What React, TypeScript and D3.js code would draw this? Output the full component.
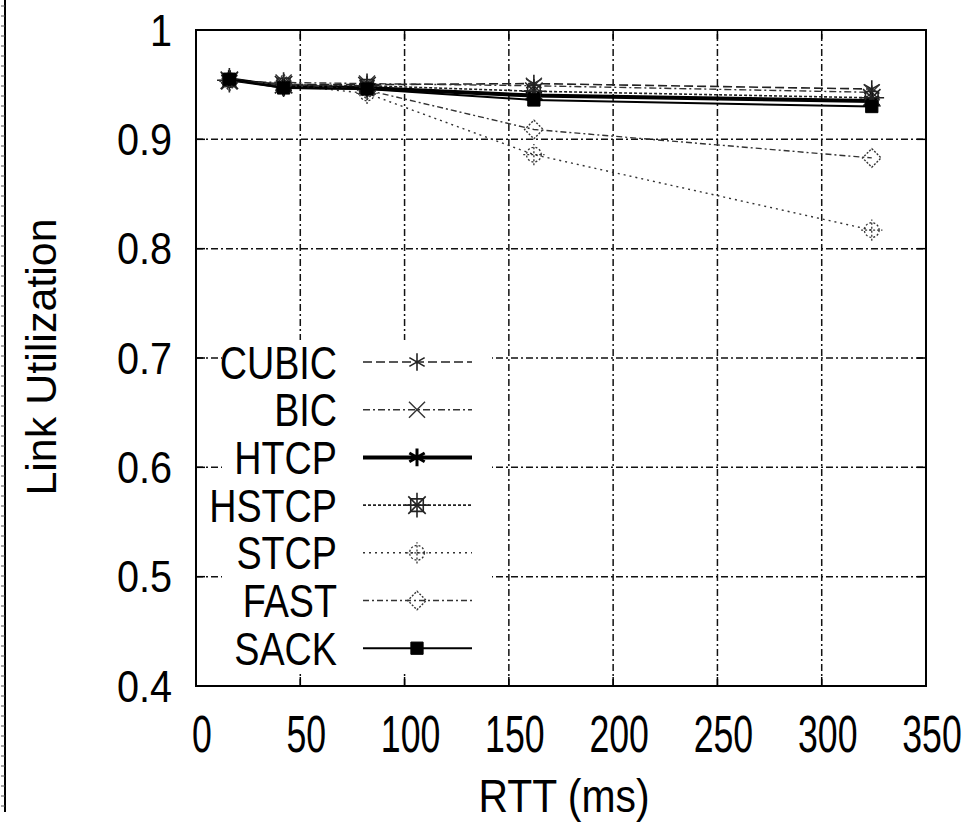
import React from "react";
import * as d3 from "d3";

const rtt = [16, 42, 82, 162, 324];
const seriesNames = ["CUBIC", "BIC", "HTCP", "HSTCP", "STCP", "FAST", "SACK"];
const cubic = [0.955, 0.95, 0.95, 0.951, 0.946];
const bic = [0.953, 0.952, 0.951, 0.949, 0.943];
const htcp = [0.955, 0.948, 0.947, 0.94, 0.935];
const hstcp = [0.954, 0.95, 0.949, 0.944, 0.938];
const stcp = [0.954, 0.95, 0.942, 0.886, 0.817];
const fast = [0.953, 0.951, 0.945, 0.909, 0.883];
const sack = [0.955, 0.947, 0.946, 0.936, 0.93];
const xTicks = [0, 50, 100, 150, 200, 250, 300, 350];
const yTicks = [0.4, 0.5, 0.6, 0.7, 0.8, 0.9, 1];
const yTickLabels = ["0.4", "0.5", "0.6", "0.7", "0.8", "0.9", "1"];

const W = 969;
const H = 833;
const FONT = "'Liberation Sans', Arial, sans-serif";

type Style = {
  dash: string;
  width: number;
  color: string;
  marker: string;
  mw: number;
};

const styles: Record<string, Style> = {
  CUBIC: { dash: "9,4", width: 1.6, color: "#222", marker: "asterisk", mw: 1.6 },
  BIC: { dash: "7,3,2,3", width: 1.4, color: "#333", marker: "times", mw: 1.4 },
  HTCP: { dash: "", width: 4, color: "#000", marker: "asterisk", mw: 3 },
  HSTCP: { dash: "3,2", width: 1.6, color: "#222", marker: "squarex", mw: 1.6 },
  STCP: { dash: "2,4", width: 1.4, color: "#333", marker: "circleplus", mw: 1.3 },
  FAST: { dash: "6,3,2,3", width: 1.4, color: "#333", marker: "diamond", mw: 1.4 },
  SACK: { dash: "", width: 2, color: "#000", marker: "filledsquare", mw: 1 },
};

const dataMap: Record<string, number[]> = {
  CUBIC: cubic,
  BIC: bic,
  HTCP: htcp,
  HSTCP: hstcp,
  STCP: stcp,
  FAST: fast,
  SACK: sack,
};

function Marker({ kind, x, y, color, sw }: { kind: string; x: number; y: number; color: string; sw: number }) {
  const t = `translate(${x},${y})`;
  if (kind === "asterisk") {
    const p = d3.symbol().type(d3.symbolAsterisk).size(220)() as string;
    return <path d={p} transform={t} fill="none" stroke={color} strokeWidth={sw} />;
  }
  if (kind === "times") {
    const p = d3.symbol().type(d3.symbolTimes).size(170)() as string;
    return <path d={p} transform={t} fill="none" stroke={color} strokeWidth={sw} />;
  }
  if (kind === "squarex") {
    const sq = d3.symbol().type(d3.symbolSquare2).size(200)() as string;
    const tx = d3.symbol().type(d3.symbolTimes).size(200)() as string;
    const pl = d3.symbol().type(d3.symbolPlus).size(200)() as string;
    return (
      <g transform={t} fill="none" stroke={color} strokeWidth={sw}>
        <path d={sq} />
        <path d={tx} />
        <path d={pl} />
      </g>
    );
  }
  if (kind === "circleplus") {
    const c = d3.symbol().type(d3.symbolCircle).size(170)() as string;
    const pl = d3.symbol().type(d3.symbolPlus).size(150)() as string;
    return (
      <g transform={t} fill="none" stroke={color} strokeWidth={sw} strokeDasharray="2,2">
        <path d={c} />
        <path d={pl} />
      </g>
    );
  }
  if (kind === "diamond") {
    const p = d3.symbol().type(d3.symbolDiamond2).size(220)() as string;
    return <path d={p} transform={t} fill="none" stroke={color} strokeWidth={sw} strokeDasharray="2,1.5" />;
  }
  const p = d3.symbol().type(d3.symbolSquare).size(150)() as string;
  return <path d={p} transform={t} fill={color} stroke={color} strokeWidth={sw} />;
}

export default function App() {
  const x = d3.scaleLinear().domain([0, 350]).range([196, 926]);
  const y = d3.scaleLinear().domain([0.4, 1]).range([686, 30]);
  const line = d3
    .line<number>()
    .x((_, i) => x(rtt[i]))
    .y((d) => y(d));

  const gridDash = "7,3,2,3";
  const legendX = 337;
  const legendY0 = 362;
  const legendStep = 47.7;

  // scan ruler decoration on the far left
  const rulerTicks: number[] = [];
  for (let v = 6; v < 812; v += 10) rulerTicks.push(v);

  return (
    <svg
      width={W}
      height={H}
      style={{ position: "absolute", left: 0, top: 0, background: "#fff" }}
      fontFamily={FONT}
    >
      <rect x={0} y={0} width={W} height={H} fill="#fff" />
      {/* left ruler */}
      <line x1={5} x2={5} y1={0} y2={812} stroke="#000" strokeWidth={2} />
      {rulerTicks.map((v) => (
        <line key={v} x1={1} x2={5} y1={v} y2={v} stroke="#555" strokeWidth={1} />
      ))}

      {/* grid */}
      {yTicks.slice(1, -1).map((v) => (
        <line key={"gy" + v} x1={x(0)} x2={x(350)} y1={y(v)} y2={y(v)} stroke="#111" strokeWidth={1.5} strokeDasharray={gridDash} />
      ))}
      {xTicks.slice(1, -1).map((v) => (
        <line key={"gx" + v} x1={x(v)} x2={x(v)} y1={y(0.4)} y2={y(1)} stroke="#111" strokeWidth={1.5} strokeDasharray={gridDash} />
      ))}

      {/* legend background box */}
      <rect x={222} y={340} width={270} height={332} fill="#fff" />

      {/* frame */}
      <rect x={x(0)} y={y(1)} width={x(350) - x(0)} height={y(0.4) - y(1)} fill="none" stroke="#000" strokeWidth={2} />
      {/* ticks */}
      {xTicks.map((v) => (
        <g key={"tx" + v}>
          <line x1={x(v)} x2={x(v)} y1={y(0.4)} y2={y(0.4) - 9} stroke="#000" strokeWidth={1.5} />
          <line x1={x(v)} x2={x(v)} y1={y(1)} y2={y(1) + 9} stroke="#000" strokeWidth={1.5} />
        </g>
      ))}
      {yTicks.map((v) => (
        <g key={"ty" + v}>
          <line x1={x(0)} x2={x(0) + 9} y1={y(v)} y2={y(v)} stroke="#000" strokeWidth={1.5} />
          <line x1={x(350)} x2={x(350) - 9} y1={y(v)} y2={y(v)} stroke="#000" strokeWidth={1.5} />
        </g>
      ))}

      {/* tick labels */}
      {xTicks.map((v) => (
        <g key={"lx" + v} transform={`translate(${x(v) + 6},752) scale(0.7,1)`}>
          <text x={0} y={0} textAnchor="middle" fontSize={51} fill="#000">
            {String(v)}
          </text>
        </g>
      ))}
      {yTicks.map((v, i) => (
        <g key={"ly" + v} transform={`translate(172,${y(v) + 15.5}) scale(0.9,1)`}>
          <text x={0} y={0} textAnchor="end" fontSize={44} fill="#000">
            {yTickLabels[i]}
          </text>
        </g>
      ))}

      {/* axis titles */}
      <g transform={`translate(56,357) rotate(-90)`}>
        <text x={0} y={0} textAnchor="middle" fontSize={43} fill="#000">
          Link Utilization
        </text>
      </g>
      <g transform={`translate(564,812) scale(0.87,1)`}>
        <text x={0} y={0} textAnchor="middle" fontSize={47} fill="#000">
          RTT (ms)
        </text>
      </g>

      {/* series */}
      {seriesNames.map((name) => {
        const s = styles[name];
        const vals = dataMap[name];
        return (
          <g key={name}>
            <path
              d={line(vals) as string}
              fill="none"
              stroke={s.color}
              strokeWidth={s.width}
              strokeDasharray={s.dash || undefined}
            />
            {vals.map((v, i) => (
              <Marker key={i} kind={s.marker} x={x(rtt[i])} y={y(v)} color={s.color} sw={s.mw} />
            ))}
          </g>
        );
      })}

      {/* legend */}
      {seriesNames.map((name, i) => {
        const s = styles[name];
        const cy = legendY0 + i * legendStep;
        return (
          <g key={"lg" + name}>
            <g transform={`translate(${legendX},${cy + 16.5}) scale(0.82,1)`}>
              <text x={0} y={0} textAnchor="end" fontSize={46} fill="#000">
                {name}
              </text>
            </g>
            <line
              x1={363}
              x2={472}
              y1={cy}
              y2={cy}
              stroke={s.color}
              strokeWidth={s.width}
              strokeDasharray={s.dash || undefined}
            />
            <Marker kind={s.marker} x={417} y={cy} color={s.color} sw={s.mw} />
          </g>
        );
      })}
    </svg>
  );
}
